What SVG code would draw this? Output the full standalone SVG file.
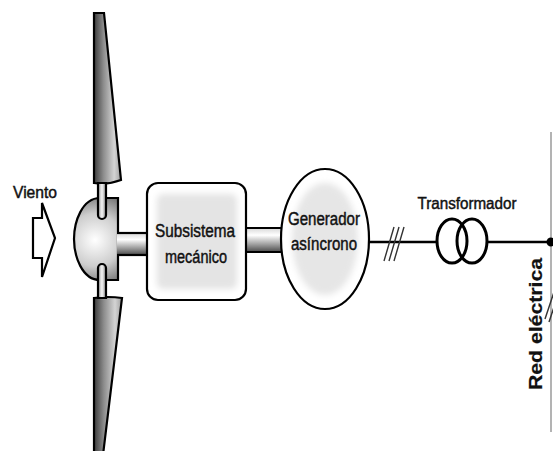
<svg xmlns="http://www.w3.org/2000/svg" width="553" height="451" viewBox="0 0 553 451">
  <defs>
    <linearGradient id="bladeGrad" x1="0" y1="0" x2="1" y2="0">
      <stop offset="0" stop-color="#3c3c3c"/>
      <stop offset="0.35" stop-color="#8c8c8c"/>
      <stop offset="0.75" stop-color="#d4d4d4"/>
      <stop offset="1" stop-color="#a0a0a0"/>
    </linearGradient>
    <linearGradient id="spokeGrad" x1="0" y1="0" x2="1" y2="0">
      <stop offset="0" stop-color="#9a9a9a"/>
      <stop offset="0.5" stop-color="#f4f4f4"/>
      <stop offset="1" stop-color="#8a8a8a"/>
    </linearGradient>
    <linearGradient id="shaftGrad" x1="0" y1="0" x2="0" y2="1">
      <stop offset="0" stop-color="#d8d8d8"/>
      <stop offset="0.3" stop-color="#ffffff"/>
      <stop offset="0.7" stop-color="#9a9a9a"/>
      <stop offset="1" stop-color="#4a4a4a"/>
    </linearGradient>
    <radialGradient id="hubGrad" cx="95" cy="240" r="48" gradientUnits="userSpaceOnUse">
      <stop offset="0" stop-color="#ffffff"/>
      <stop offset="0.55" stop-color="#cdcdcd"/>
      <stop offset="1" stop-color="#6e6e6e"/>
    </radialGradient>
    <filter id="soft" x="-20%" y="-20%" width="140%" height="140%">
      <feGaussianBlur stdDeviation="3"/>
    </filter>
    <style>
      .lbl { font-family: "Liberation Sans", Arial, sans-serif; font-size: 18px; fill: #111; stroke: #111; stroke-width: 0.45; text-anchor: middle; }
      .outline { stroke: #000; stroke-width: 2.2; }
      .wire { stroke: #000; stroke-width: 2.5; fill: none; }
      .tick { stroke: #333; stroke-width: 1.4; }
    </style>
  </defs>

  <!-- wind arrow -->
  <g id="wind">
    <text class="lbl" x="35" y="198" style="font-size:16px" textLength="44" lengthAdjust="spacingAndGlyphs">Viento</text>
    <path d="M33,218 L42,218 L42,203 L55,238 L42,277 L42,258 L33,258 Z" fill="#fff" class="outline" stroke-linejoin="miter"/>
  </g>

  <!-- rotor: blades, hub, spokes -->
  <g id="rotor">
    <path d="M94,13 L104,13 L121,180 Q108,185 94,183 Z" fill="url(#bladeGrad)" class="outline"/>
    <path d="M94,298 Q108,296 122,298 L103,455 L94,455 Z" fill="url(#bladeGrad)" class="outline"/>
    <path d="M118,198 L100,198 C82,198 74,222 74,239 C74,256 82,280 100,280 L118,280 Z" fill="url(#hubGrad)" class="outline"/>
    <path d="M98,183 L106,183 L106,215 A4,4 0 0 1 98,215 Z" fill="url(#spokeGrad)" class="outline"/>
    <path d="M98,298 L106,298 L106,268 A4,4 0 0 0 98,268 Z" fill="url(#spokeGrad)" class="outline"/>
  </g>

  <!-- shafts and electrical line -->
  <g id="connectors">
    <rect x="117" y="233" width="31" height="22" fill="url(#shaftGrad)"/>
    <line x1="117" y1="233" x2="148" y2="233" class="outline"/>
    <line x1="117" y1="255" x2="148" y2="255" class="outline"/>
    <rect x="246" y="228" width="37" height="24" fill="url(#shaftGrad)"/>
    <line x1="246" y1="228" x2="283" y2="228" class="outline"/>
    <line x1="246" y1="252" x2="283" y2="252" class="outline"/>

    <line x1="369" y1="242" x2="437" y2="242" class="wire"/>
    <line x1="487" y1="242" x2="551" y2="242" class="wire"/>
    <line x1="384" y1="261" x2="394" y2="227" class="tick"/>
    <line x1="389" y1="261" x2="399" y2="227" class="tick"/>
    <line x1="394" y1="261" x2="404" y2="227" class="tick"/>
  </g>

  <!-- mechanical subsystem -->
  <g id="mechanical">
    <rect x="147" y="183" width="99" height="117" rx="11" fill="#fff" class="outline" stroke-width="2.5"/>
    <rect x="157" y="194" width="80" height="95" rx="6" fill="#e4e4e4" filter="url(#soft)"/>
    <text class="lbl" x="195" y="237" textLength="80" lengthAdjust="spacingAndGlyphs">Subsistema</text>
    <text class="lbl" x="196" y="263" textLength="62" lengthAdjust="spacingAndGlyphs">mecánico</text>
  </g>

  <!-- asynchronous generator -->
  <g id="generator">
    <ellipse cx="325" cy="239" rx="44" ry="70" fill="#fff" class="outline" stroke-width="2.5"/>
    <ellipse cx="325" cy="239" rx="33" ry="56" fill="#e6e6e6" filter="url(#soft)"/>
    <text class="lbl" x="324" y="225" textLength="72" lengthAdjust="spacingAndGlyphs">Generador</text>
    <text class="lbl" x="324" y="250" textLength="66" lengthAdjust="spacingAndGlyphs">asíncrono</text>
  </g>

  <!-- transformer -->
  <g id="transformer">
    <text class="lbl" x="467" y="209" style="font-size:16px" textLength="99" lengthAdjust="spacingAndGlyphs">Transformador</text>
    <ellipse cx="452" cy="241" rx="15" ry="22" fill="none" stroke="#000" stroke-width="3"/>
    <ellipse cx="472" cy="241" rx="15" ry="22" fill="none" stroke="#000" stroke-width="3"/>
  </g>

  <!-- grid -->
  <g id="grid">
    <line x1="551" y1="132" x2="551" y2="432" stroke="#9a9a9a" stroke-width="1.5"/>
    <circle cx="551" cy="242" r="4.5" fill="#000"/>
    <line x1="545" y1="319" x2="556" y2="286" class="tick" stroke="#777"/>
    <line x1="549" y1="322" x2="560" y2="289" class="tick" stroke="#777"/>
    <text x="542" y="324" transform="rotate(-90 542 324)" class="lbl" style="font-weight:bold;font-size:19px;stroke-width:0.2" textLength="132" lengthAdjust="spacingAndGlyphs">Red eléctrica</text>
  </g>
</svg>
